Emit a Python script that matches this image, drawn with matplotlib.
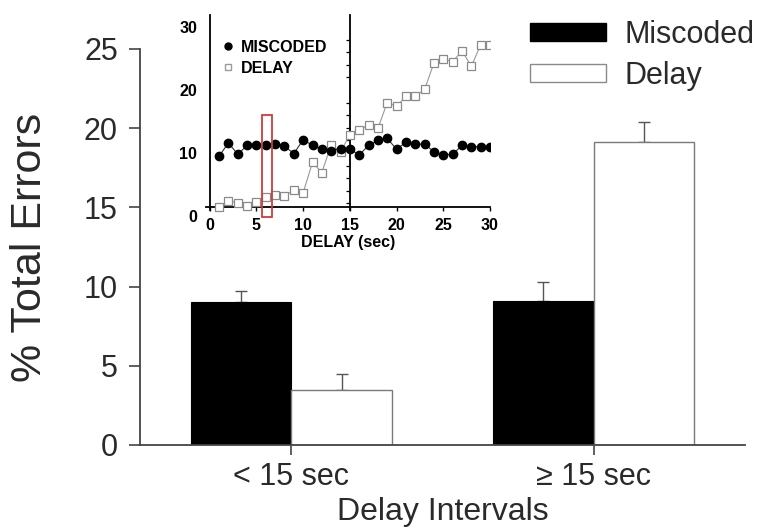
import matplotlib
matplotlib.use("Agg")
import matplotlib.pyplot as plt
from matplotlib.patches import Patch
from matplotlib.lines import Line2D
from matplotlib.ticker import MultipleLocator

plt.rcParams['font.family'] = ['Liberation Sans', 'DejaVu Sans']

# Main bar chart data
groups = ["< 15 sec", "\u2265 15 sec"]
miscoded_pct = [9.0, 9.1]
miscoded_sem = [0.75, 1.2]
delay_pct = [3.45, 19.15]
delay_sem = [1.05, 1.25]

# Inset: errors by delay length
delay_sec = list(range(1, 31))
inset_miscoded = [9.5, 11.6, 9.8, 11.2, 11.2, 11.3, 11.5, 11.1, 9.9, 12.1,
                  11.2, 10.6, 10.3, 10.7, 10.6, 9.7, 11.2, 12.0, 12.3, 10.6,
                  11.7, 11.4, 11.4, 10.2, 9.7, 9.8, 11.2, 11.0, 11.0, 11.0]
inset_delay = [1.4, 2.4, 2.1, 1.6, 2.3, 3.0, 3.4, 3.2, 4.1, 3.7,
               8.5, 6.9, 11.3, 10.2, 12.9, 13.7, 14.4, 13.9, 18.0, 17.4,
               19.0, 19.0, 20.1, 24.3, 24.9, 24.5, 26.2, 23.8, 27.1, 27.1]

W, H = 762, 529
fig = plt.figure(figsize=(W / 100, H / 100), dpi=100)

def px_axes(left, top, right, bottom):
    return fig.add_axes([left / W, 1 - bottom / H, (right - left) / W, (bottom - top) / H])

ink = '#2a2a2a'

# ---------------- main axes ----------------
ax = px_axes(140, 49, 745, 445)
x = [0, 1]
bw = 0.333
xm = [v - bw / 2 for v in x]
xd = [v + bw / 2 for v in x]
ax.bar(xm, miscoded_pct, width=bw, color='black', edgecolor='black', linewidth=0.8, zorder=2)
ax.bar(xd, delay_pct, width=bw, color='white', edgecolor='#7a7a7a', linewidth=1.0, zorder=2)
ax.errorbar(xm, miscoded_pct, yerr=[[0, 0], miscoded_sem], fmt='none',
            ecolor='#555555', elinewidth=1.0, capsize=4, capthick=1.0, zorder=1)
ax.errorbar(xd, delay_pct, yerr=[[0, 0], delay_sem], fmt='none',
            ecolor='#555555', elinewidth=1.0, capsize=4, capthick=1.0, zorder=1)

ax.set_xlim(-0.5, 1.5)
ax.set_ylim(0, 25)
ax.set_yticks([0, 5, 10, 15, 20, 25])
ax.set_xticks(x)
ax.set_xticklabels(groups)
for s in ('top', 'right'):
    ax.spines[s].set_visible(False)
for s in ('left', 'bottom'):
    ax.spines[s].set_color('#444444')
    ax.spines[s].set_linewidth(1.3)
ax.tick_params(axis='y', direction='out', length=8, width=1.2, color='#444444',
               labelsize=22, labelcolor=ink, pad=8)
ax.tick_params(axis='x', direction='out', length=7, width=1.2, color='#444444',
               labelsize=22, labelcolor=ink, pad=5)
ax.set_ylabel('% Total Errors', fontsize=31, color=ink, labelpad=24)
ax.set_xlabel('Delay Intervals', fontsize=23, color=ink, labelpad=4)

handles = [Patch(facecolor='black', edgecolor='black'),
           Patch(facecolor='white', edgecolor='#8a8a8a', linewidth=1.0)]
leg = ax.legend(handles, ['Miscoded', 'Delay'], loc='upper left',
                bbox_to_anchor=(530 / W, 1 - 20 / H), bbox_transform=fig.transFigure,
                frameon=False, fontsize=22, handlelength=2.5, handleheight=0.55,
                handletextpad=0.6, labelspacing=0.35, borderpad=0, borderaxespad=0)
for t in leg.get_texts():
    t.set_color(ink)

# ---------------- inset ----------------
ai = px_axes(206, 15, 490, 216)
ai.plot(delay_sec, inset_delay, color='#9a9a9a', linewidth=0.8, marker='s',
        markersize=6, markerfacecolor='white', markeredgecolor='#8a8a8a',
        markeredgewidth=0.9, zorder=3)
ai.plot(delay_sec, inset_miscoded, color='#333333', linewidth=0.8, marker='o',
        markersize=6, markerfacecolor='black', markeredgecolor='black', zorder=4)

ai.set_xlim(-0.4, 30)
ai.set_ylim(0, 31.9)
ai.patch.set_alpha(0)
ai.spines['top'].set_visible(False)
ai.spines['left'].set_position(('data', 0))
ai.spines['left'].set_bounds(1.0, 31.9)
ai.spines['bottom'].set_position(('data', 1.4))
ai.spines['right'].set_position(('data', 15))
ai.spines['right'].set_bounds(1.0, 31.9)
for s in ('left', 'bottom', 'right'):
    ai.spines[s].set_linewidth(1.3)
    ai.spines[s].set_color('black')

ai.set_xticks([0, 5, 10, 15, 20, 25, 30])
ai.set_yticks([0, 10, 20, 30])
ai.tick_params(axis='x', direction='out', length=3, width=1.0, pad=5,
               labelsize=11.5)
ai.tick_params(axis='y', left=True, length=0, pad=9, labelsize=11.5)
for lab in ai.get_xticklabels() + ai.get_yticklabels():
    lab.set_fontweight('bold')

# divider at 15 s with small ticks
ai.yaxis.set_minor_locator(MultipleLocator(2))
ai.tick_params(axis='y', which='minor', left=False, right=True, direction='in',
               length=3, width=0.9)
ai.tick_params(axis='y', which='major', right=False)

ai.set_xlabel('DELAY (sec)', fontsize=11.5, fontweight='bold', labelpad=1)

# highlighted delay window
ai.add_patch(plt.Rectangle((5.55, -0.2), 1.1, 16.3, fill=False,
                           edgecolor='#d23a3a', linewidth=1.3, clip_on=False, zorder=5))

ih = [Line2D([], [], linestyle='none', marker='o', markersize=5,
             markerfacecolor='black', markeredgecolor='black'),
      Line2D([], [], linestyle='none', marker='s', markersize=5,
             markerfacecolor='white', markeredgecolor='#9a9a9a')]
il = ai.legend(ih, ['MISCODED', 'DELAY'], loc='upper left',
               bbox_to_anchor=(222 / W, 1 - 40 / H), bbox_transform=fig.transFigure,
               frameon=False, handlelength=0.8, handletextpad=0.4,
               labelspacing=0.35, borderpad=0, borderaxespad=0,
               prop={'size': 11.5, 'weight': 'bold'})

fig.savefig('out.png', dpi=100)
